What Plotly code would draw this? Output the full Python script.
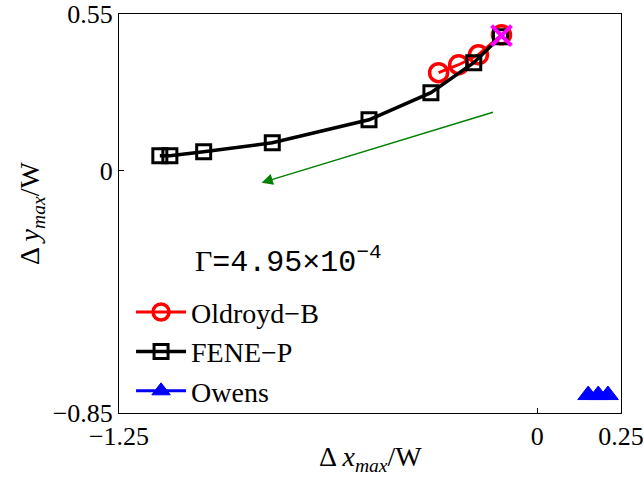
import plotly.graph_objects as go

# FENE-P data
fene_x = [-1.128, -1.098, -0.997, -0.792, -0.503, -0.318, -0.190, -0.110]
fene_y = [0.053, 0.053, 0.067, 0.098, 0.179, 0.274, 0.379, 0.470]
# Oldroyd-B data
old_x = [-0.295, -0.235, -0.176, -0.107]
old_y = [0.344, 0.372, 0.407, 0.477]
# Owens data
owens_x = [0.152, 0.182, 0.211]
owens_y = [-0.787, -0.787, -0.787]
# Magenta marker
cross_x = [-0.107]
cross_y = [0.474]

# Arrow (tail, head)
arrow_tail = (-0.128, 0.207)
arrow_head = (-0.824, -0.042)

xticks = [-1.25, 0, 0.25]
xticklabels = ["\u22121.25", "0", "0.25"]
yticks = [-0.85, 0, 0.55]
yticklabels = ["\u22120.85", "0", "0.55"]

serif = "Liberation Serif"

fig = go.Figure()
fig.add_trace(go.Scatter(
    x=old_x, y=old_y, mode="lines+markers", name="Oldroyd\u2212B",
    line=dict(color="red", width=3),
    marker=dict(symbol="circle-open", size=18, color="red", line=dict(width=3.5, color="red"))))
fig.add_trace(go.Scatter(
    x=fene_x, y=fene_y, mode="lines+markers", name="FENE\u2212P",
    line=dict(color="black", width=3.5),
    marker=dict(symbol="square-open", size=14, color="black", line=dict(width=3, color="black"))))
fig.add_trace(go.Scatter(
    x=owens_x, y=owens_y, mode="lines+markers", name="Owens",
    line=dict(color="blue", width=3),
    marker=dict(symbol="triangle-up", size=18, color="blue", line=dict(width=1, color="blue"))))
fig.add_trace(go.Scatter(
    x=cross_x, y=cross_y, mode="markers", showlegend=False,
    marker=dict(symbol="x-thin-open", size=20, color="magenta", line=dict(width=4, color="magenta"))))

fig.add_annotation(
    x=arrow_head[0], y=arrow_head[1], ax=arrow_tail[0], ay=arrow_tail[1],
    xref="x", yref="y", axref="x", ayref="y", text="",
    showarrow=True, arrowhead=2, arrowsize=1.5, arrowwidth=1.5, arrowcolor="green")

fig.add_annotation(
    x=-1.03, y=-0.315, xref="x", yref="y", xanchor="left", yanchor="middle",
    showarrow=False,
    text="<span style=\"font-family:Liberation Serif\">\u0393</span>="
         "4.95\u00d710<sup>\u22124</sup>",
    font=dict(family="Liberation Mono", size=30, color="black"))

# x-axis title placed as annotation for exact vertical position
fig.add_annotation(
    x=0.5, y=-0.115, xref="paper", yref="paper", xanchor="center", yanchor="middle",
    showarrow=False,
    text="\u0394 <i>x</i><sub><i>max</i></sub>/W",
    font=dict(family=serif, size=28, color="black"))

axis_common = dict(
    showline=True, linecolor="black", linewidth=1, mirror=True, automargin=False,
    ticks="inside", ticklen=5, tickcolor="black", showgrid=False, zeroline=False,
    tickfont=dict(family=serif, size=26, color="black"))

fig.update_xaxes(range=[-1.25, 0.25], tickvals=xticks, ticktext=xticklabels,
                 **axis_common)
fig.update_yaxes(range=[-0.85, 0.55], tickvals=yticks, ticktext=yticklabels,
                 title=dict(text="\u0394 <i>y</i><sub><i>max</i></sub>/W",
                            font=dict(family=serif, size=28, color="black"), standoff=4),
                 **axis_common)

fig.update_layout(
    width=644, height=486,
    margin=dict(l=119, r=23, t=14, b=73, autoexpand=False),
    paper_bgcolor="white", plot_bgcolor="white",
    showlegend=True,
    font=dict(family=serif),
    legend=dict(x=0.024, y=0.315, xanchor="left", yanchor="top",
                bgcolor="rgba(255,255,255,0)", borderwidth=0,
                font=dict(family=serif, size=28, color="black"),
                itemwidth=50, tracegroupgap=0),
)

fig.write_html("out.html")
